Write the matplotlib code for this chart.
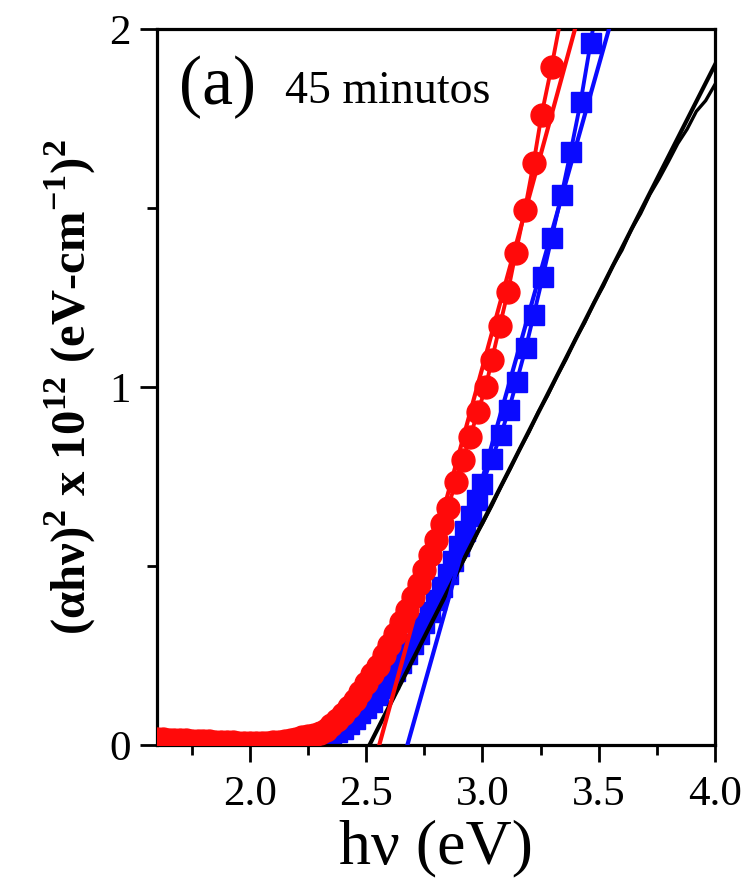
import matplotlib
matplotlib.use("Agg")
import matplotlib.pyplot as plt
from matplotlib.ticker import MultipleLocator

plt.rcParams["font.family"] = ["Liberation Serif", "DejaVu Serif"]
plt.rcParams["mathtext.fontset"] = "custom"
plt.rcParams["mathtext.rm"] = "Liberation Serif"
plt.rcParams["mathtext.bf"] = "Liberation Serif:bold"

# datos (a) 45 minutos
red_x = [1.600, 1.625, 1.650, 1.675, 1.700, 1.725, 1.750, 1.775, 1.800, 1.825,
         1.850, 1.875, 1.900, 1.925, 1.950, 1.975, 2.000, 2.025, 2.050, 2.075,
         2.100, 2.125, 2.150, 2.175, 2.200, 2.225, 2.250, 2.275, 2.300, 2.325,
         2.350, 2.375, 2.400, 2.425, 2.450, 2.475, 2.500, 2.525, 2.550, 2.575,
         2.600, 2.625, 2.650, 2.675, 2.700, 2.725, 2.750, 2.775, 2.800, 2.825,
         2.850, 2.886, 2.916, 2.946, 2.980, 3.014, 3.040, 3.074, 3.109, 3.143,
         3.182, 3.220, 3.254, 3.297, 3.340]
red_y = [0.016, 0.016, 0.015, 0.014, 0.013, 0.013, 0.012, 0.011, 0.010, 0.010,
         0.009, 0.008, 0.007, 0.007, 0.006, 0.006, 0.005, 0.005, 0.005, 0.006,
         0.007, 0.009, 0.011, 0.014, 0.017, 0.021, 0.024, 0.028, 0.033, 0.043,
         0.055, 0.070, 0.087, 0.106, 0.127, 0.149, 0.172, 0.197, 0.222, 0.250,
         0.280, 0.311, 0.343, 0.377, 0.413, 0.451, 0.490, 0.531, 0.573, 0.617,
         0.662, 0.735, 0.796, 0.860, 0.930, 1.000, 1.075, 1.170, 1.265, 1.375,
         1.494, 1.626, 1.760, 1.894, 2.040]

blue_x = [1.600, 1.650, 1.700, 1.750, 1.800, 1.850, 1.900, 1.950, 2.000, 2.050,
          2.100, 2.150, 2.200, 2.225, 2.250, 2.275, 2.300, 2.325, 2.350, 2.375,
          2.400, 2.425, 2.450, 2.475, 2.500, 2.525, 2.550, 2.575, 2.600, 2.625,
          2.650, 2.675, 2.700, 2.725, 2.750, 2.775, 2.800, 2.825, 2.850, 2.875,
          2.900, 2.925, 2.950, 2.975, 3.000, 3.040, 3.079, 3.113, 3.147, 3.186,
          3.220, 3.259, 3.297, 3.340, 3.379, 3.422, 3.465, 3.508]
blue_y = [0.010, 0.009, 0.008, 0.007, 0.006, 0.005, 0.004, 0.004, 0.003, 0.003,
          0.003, 0.003, 0.004, 0.005, 0.006, 0.008, 0.012, 0.018, 0.026, 0.035,
          0.046, 0.059, 0.073, 0.088, 0.104, 0.121, 0.139, 0.160, 0.185, 0.207,
          0.230, 0.255, 0.282, 0.310, 0.340, 0.372, 0.405, 0.440, 0.477, 0.515,
          0.555, 0.597, 0.640, 0.685, 0.730, 0.800, 0.866, 0.936, 1.015, 1.109,
          1.200, 1.307, 1.416, 1.536, 1.656, 1.796, 1.961, 2.130]

black_x = [1.60, 1.70, 1.80, 1.90, 2.00, 2.10, 2.20, 2.25, 2.30, 2.35,
           2.40, 2.45, 2.50, 2.55, 2.60, 2.65, 2.70, 2.75, 2.80, 2.85,
           2.90, 2.94, 2.98, 3.00, 3.04, 3.08, 3.12, 3.16, 3.20, 3.24,
           3.28, 3.32, 3.36, 3.40, 3.44, 3.48, 3.52, 3.56, 3.60, 3.64,
           3.68, 3.72, 3.76, 3.80, 3.84, 3.88, 3.92, 3.96, 4.00]
black_y = [0.012, 0.010, 0.008, 0.006, 0.005, 0.006, 0.010, 0.016, 0.025, 0.038,
           0.055, 0.077, 0.103, 0.133, 0.167, 0.205, 0.248, 0.300, 0.365, 0.430,
           0.494, 0.540, 0.596, 0.618, 0.668, 0.722, 0.772, 0.826, 0.874, 0.930,
           0.976, 1.030, 1.078, 1.134, 1.180, 1.236, 1.282, 1.338, 1.382, 1.440,
           1.484, 1.538, 1.582, 1.630, 1.680, 1.720, 1.770, 1.800, 1.845]

# ajustes lineales (extrapolacion hasta el eje)
red_fit_x = [2.556, 3.398]
red_fit_y = [0.0, 2.0]
blue_fit_x = [2.677, 3.544]
blue_fit_y = [0.0, 2.0]
black_fit_x = [2.514, 4.000]
black_fit_y = [0.0, 1.90]

fig = plt.figure(figsize=(7.53, 8.92), dpi=100)
ax = fig.add_axes([0.2085, 0.1648, 0.741, 0.8027])

ax.plot(black_x, black_y, color="black", lw=2.4, zorder=1)
ax.plot(blue_x, blue_y, color="#0a0aff", lw=2.8, marker="s", ms=15, zorder=2)
ax.plot(red_x, red_y, color="#ff0a0a", lw=2.8, marker="o", ms=16.5, zorder=3)
ax.plot(black_fit_x, black_fit_y, color="black", lw=3.0, zorder=4)
ax.plot(red_fit_x, red_fit_y, color="#ff0a0a", lw=3.0, zorder=4)
ax.plot(blue_fit_x, blue_fit_y, color="#0a0aff", lw=3.0, zorder=4)

ax.set_xlim(1.6, 4.0)
ax.set_ylim(0, 2)
ax.xaxis.set_minor_locator(MultipleLocator(0.25))
ax.yaxis.set_minor_locator(MultipleLocator(0.5))
ax.set_xticks([2.0, 2.5, 3.0, 3.5, 4.0])
ax.set_xticklabels(["2.0", "2.5", "3.0", "3.5", "4.0"])
ax.set_yticks([0, 1, 2])
ax.set_yticklabels(["0", "1", "2"])

for s in ax.spines.values():
    s.set_linewidth(2.3)
ax.tick_params(which="both", direction="out", width=2, top=False, right=False)
ax.tick_params(which="major", length=12, labelsize=31)
ax.tick_params(axis="x", which="major", pad=10)
ax.tick_params(axis="y", which="major", pad=7)
ax.tick_params(which="minor", length=7)

ax.set_xlabel("hν (eV)", fontsize=46, labelpad=4)
ax.set_ylabel(r"(αhν)$^{\mathbf{2}}$ x 10$^{\mathbf{12}}$ (eV-cm$^{\mathbf{-1}}$)$^{\mathbf{2}}$",
              fontsize=35, fontweight="bold", labelpad=8)

ax.text(0.040, 0.895, "(a)", transform=ax.transAxes, fontsize=50)
ax.text(0.229, 0.897, "45 minutos", transform=ax.transAxes, fontsize=33)

fig.savefig("out.png", dpi=100)
